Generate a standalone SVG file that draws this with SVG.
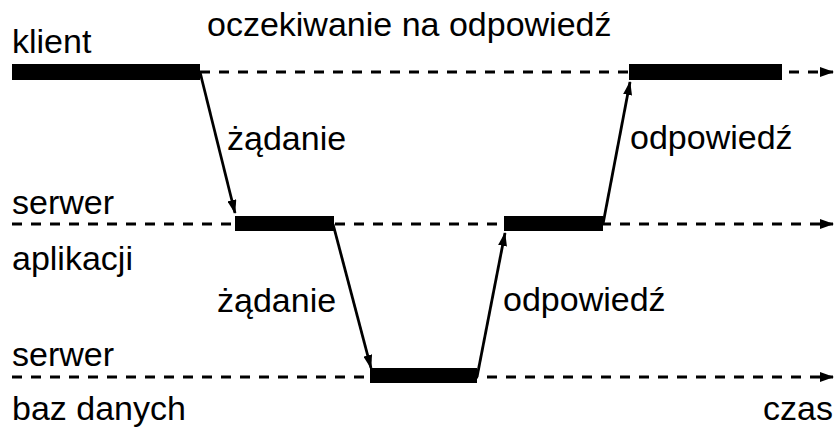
<svg xmlns="http://www.w3.org/2000/svg" width="839" height="427" viewBox="0 0 839 427">
  <style>
    text { font-family: "Liberation Sans", Arial, sans-serif; font-size: 34px; fill: #000; }
    .timeline { stroke: #000; stroke-width: 3; stroke-dasharray: 10 9; fill: none; }
    .busy { fill: #000; }
    .msg { stroke: #000; stroke-width: 2.8; fill: none; }
  </style>
  <defs>
    <marker id="timeHead" viewBox="0 0 14 10" refX="13" refY="5" markerWidth="14" markerHeight="10" markerUnits="userSpaceOnUse" orient="auto">
      <path d="M0,0 L14,5 L0,10 z" fill="#000"/>
    </marker>
    <marker id="msgHead" viewBox="0 0 14 9" refX="13" refY="4.5" markerWidth="14" markerHeight="9" markerUnits="userSpaceOnUse" orient="auto">
      <path d="M0,0 L14,4.5 L0,9 z" fill="#000"/>
    </marker>
  </defs>

  <text x="207" y="36">oczekiwanie na odpowiedź</text>

  <!-- lane: client -->
  <g id="klient">
    <text x="12" y="53">klient</text>
    <rect class="busy" x="12" y="64" width="188" height="16"/>
    <rect class="busy" x="629" y="64" width="153" height="16"/>
  </g>

  <!-- lane: application server -->
  <g id="serwer-aplikacji">
    <text x="12" y="214">serwer</text>
    <text x="12" y="270">aplikacji</text>
    <rect class="busy" x="235" y="216" width="99" height="15"/>
    <rect class="busy" x="504" y="216" width="99" height="15"/>
  </g>

  <!-- lane: database server -->
  <g id="serwer-baz-danych">
    <text x="12" y="366">serwer</text>
    <text x="12" y="420">baz danych</text>
    <rect class="busy" x="370" y="368" width="107" height="15"/>
  </g>

  <text x="763" y="420">czas</text>

  <!-- time axes and messages -->
  <g id="connectors">
    <line class="timeline" x1="200" y1="72" x2="833" y2="72" marker-end="url(#timeHead)"/>
    <line class="timeline" x1="12" y1="224" x2="833" y2="224" marker-end="url(#timeHead)"/>
    <line class="timeline" x1="12" y1="377" x2="833" y2="377" marker-end="url(#timeHead)"/>

    <line class="msg" x1="200" y1="72" x2="235" y2="213" marker-end="url(#msgHead)"/>
    <line class="msg" x1="333" y1="224" x2="371" y2="368" marker-end="url(#msgHead)"/>
    <line class="msg" x1="477" y1="377" x2="505" y2="233" marker-end="url(#msgHead)"/>
    <line class="msg" x1="603" y1="224" x2="630" y2="82" marker-end="url(#msgHead)"/>

    <text x="227" y="150">żądanie</text>
    <text x="630" y="149">odpowiedź</text>
    <text x="217" y="312">żądanie</text>
    <text x="503" y="311">odpowiedź</text>
  </g>
</svg>
